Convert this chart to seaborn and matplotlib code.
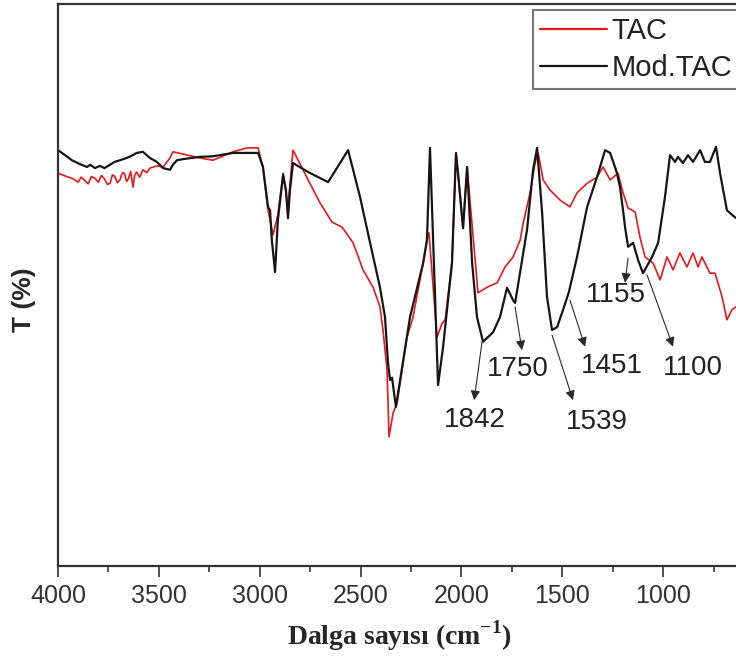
import pandas as pd
import seaborn as sns
import matplotlib.pyplot as plt
from matplotlib.ticker import MultipleLocator

# === DATA (arbitrary T scale 0-100) ===
tac_wn = [4000, 3965, 3931, 3900, 3885, 3870, 3850, 3835, 3817, 3800, 3785, 3770, 3755, 3742,
          3730, 3720, 3705, 3693, 3680, 3670, 3660, 3650, 3640, 3628, 3620, 3610, 3595, 3579,
          3560, 3544, 3510, 3479, 3445, 3430, 3380, 3296, 3232, 3132, 3063, 3008,
          2984, 2959, 2934, 2910, 2884, 2860, 2835, 2760, 2701, 2642, 2592, 2537, 2488, 2438,
          2404, 2389, 2369, 2359, 2339, 2319, 2270, 2240, 2190, 2171, 2161, 2121, 2096, 2081,
          2047, 2027, 1992, 1972, 1918, 1873, 1823, 1784, 1744, 1709, 1694, 1660, 1635, 1620,
          1595, 1561, 1511, 1462, 1427, 1377, 1328, 1298, 1263, 1224, 1199, 1174, 1139, 1115,
          1090, 1050, 1015, 981, 951, 917, 882, 852, 827, 808, 768, 743, 708, 684, 659, 639]
tac_t = [69.9, 69.4, 69.0, 68.3, 69.2, 68.7, 68.0, 69.3, 69.0, 68.3, 69.5, 68.9, 67.9, 68.1,
         69.6, 69.4, 68.2, 68.7, 70.0, 69.8, 68.4, 69.0, 70.2, 67.4, 69.5, 70.1, 69.2, 70.5,
         70.0, 70.8, 71.2, 71.0, 72.6, 73.7, 73.3, 72.6, 72.2, 73.7, 74.4, 74.4,
         71.0, 63.3, 58.9, 62.5, 69.9, 63.9, 74.0, 68.7, 64.6, 61.2, 60.3, 57.5, 52.7, 49.6,
         46.1, 42.0, 34.9, 23.0, 27.2, 29.0, 40.7, 44.3, 53.9, 58.0, 59.3, 40.7, 43.2, 43.8,
         53.9, 73.5, 60.1, 71.0, 48.6, 49.6, 50.4, 53.2, 55.0, 58.0, 61.0, 66.4, 71.7, 73.5,
         68.7, 66.9, 65.1, 63.9, 66.4, 68.1, 69.2, 71.0, 68.7, 69.9, 66.4, 63.7, 63.0, 58.5,
         55.0, 53.9, 50.9, 55.0, 52.7, 55.7, 53.2, 55.7, 53.2, 55.0, 52.1, 52.1, 47.9, 43.8, 45.6, 46.1]

mod_wn = [4000, 3965, 3931, 3891, 3856, 3840, 3817, 3792, 3770, 3742, 3720, 3693, 3660, 3640,
          3610, 3579, 3560, 3544, 3510, 3479, 3445, 3430, 3410, 3380, 3296, 3232, 3132, 3063,
          3008, 2984, 2959, 2949, 2940, 2924, 2910, 2884, 2870, 2860, 2850, 2835, 2760, 2661,
          2562, 2503, 2453, 2404, 2379, 2364, 2354, 2344, 2325, 2255, 2190, 2171, 2156, 2116,
          2091, 2047, 2027, 2017, 1992, 1972, 1947, 1923, 1893, 1843, 1809, 1774, 1744, 1734,
          1675, 1645, 1625, 1600, 1576, 1551, 1526, 1496, 1467, 1427, 1377, 1328, 1288, 1263,
          1239, 1229, 1214, 1199, 1189, 1174, 1149, 1124, 1100, 1055, 1025, 991, 966, 941,
          927, 902, 877, 852, 817, 793, 768, 738, 718, 684, 659, 639]
mod_t = [74.0, 73.1, 72.2, 71.5, 71.0, 71.4, 70.8, 71.2, 70.8, 71.4, 71.9, 72.2, 72.6, 72.9,
         73.5, 73.7, 73.1, 72.6, 71.9, 70.8, 70.5, 71.4, 72.2, 72.4, 72.8, 72.9, 73.5, 73.5,
         73.5, 71.0, 63.9, 63.3, 58.0, 52.3, 61.6, 69.6, 66.9, 61.9, 66.9, 71.7, 70.1, 68.3,
         74.0, 65.7, 57.5, 49.6, 44.3, 36.1, 33.1, 33.5, 28.3, 44.3, 53.9, 58.0, 74.4, 32.2,
         39.0, 53.9, 73.5, 69.9, 60.1, 71.0, 53.9, 44.3, 39.9, 41.6, 44.3, 49.5, 47.3, 46.8,
         59.8, 70.5, 74.4, 62.8, 47.9, 42.0, 42.5, 45.6, 48.8, 55.0, 63.9, 69.2, 74.0, 73.5,
         71.0, 69.9, 67.4, 63.3, 60.3, 56.8, 57.5, 54.4, 52.1, 55.0, 57.5, 65.7, 73.1, 71.9,
         72.8, 71.7, 73.1, 71.9, 74.0, 71.9, 71.9, 74.6, 69.9, 63.3, 62.5, 61.9]

# peak labels: text, arrow tail (wn, T), arrow head (wn, T), text centre (wn, T)
peak_labels = ["1842", "1750", "1539", "1451", "1155", "1100"]
arrow_tail = [(1898, 39.9), (1734, 46.1), (1551, 41.1), (1462, 47.3), (1174, 54.8), (1080, 51.8)]
arrow_head = [(1937, 29.5), (1700, 38.4), (1447, 29.5), (1387, 39.0), (1189, 50.4), (951, 39.0)]
label_pos = [(1933, 26.0), (1719, 35.1), (1328, 25.6), (1253, 35.6), (1233, 48.2), (852, 35.2)]

df = pd.concat([
    pd.DataFrame({"wn": tac_wn, "T": tac_t, "sample": "TAC"}),
    pd.DataFrame({"wn": mod_wn, "T": mod_t, "sample": "Mod.TAC"}),
])

sns.set_theme(style="ticks")
plt.rcParams["font.family"] = ["Liberation Sans", "DejaVu Sans"]
plt.rcParams["mathtext.fontset"] = "custom"
plt.rcParams["mathtext.bf"] = "Liberation Serif:bold"
plt.rcParams["mathtext.rm"] = "Liberation Serif:bold"

fig = plt.figure(figsize=(7.36, 6.64), dpi=100)
ax = fig.add_axes([58 / 736, 98 / 664, 678 / 736, 562 / 664])

sns.lineplot(data=df, x="wn", y="T", hue="sample", estimator=None, sort=True,
             palette={"TAC": "#e3191c", "Mod.TAC": "#151515"}, ax=ax, legend=True)
for line in ax.lines:
    line.set_linewidth(1.6 if line.get_color() == "#151515" else 1.2)

ax.set_xlim(4000, 639)
ax.set_ylim(0, 100)
ax.xaxis.set_major_locator(MultipleLocator(500))
ax.xaxis.set_minor_locator(MultipleLocator(250))
ax.set_yticks([])
ax.tick_params(axis="x", which="major", length=8, width=1.2, pad=5, labelsize=18,
               colors="#333333")
ax.tick_params(axis="x", which="minor", length=4.5, width=1.2, colors="#333333")
for side in ["left", "bottom", "top"]:
    ax.spines[side].set_color("#333333")
    ax.spines[side].set_linewidth(1.6)
ax.spines["right"].set_visible(False)

ax.set_xlabel("")
ax.set_ylabel("")
fig.text(399 / 736, 1 - 636 / 664, r"Dalga sayısı (cm$^{\mathbf{-1}}$)", ha="center", va="center",
         family="Liberation Serif", fontweight="bold", fontsize=20)
fig.text(24 / 736, 1 - 300 / 664, "T (%)", rotation=90, ha="center", va="center",
         fontweight="bold", fontsize=19)

for lab, tail, head, pos in zip(peak_labels, arrow_tail, arrow_head, label_pos):
    ax.annotate("", xy=head, xytext=tail,
                arrowprops=dict(arrowstyle="-|>", color="#2a2a2a", lw=0.8,
                                mutation_scale=14, shrinkA=0, shrinkB=0))
    ax.text(pos[0], pos[1], lab, ha="center", va="center", fontsize=20, color="#222222")

handles, labels = ax.get_legend_handles_labels()
for h in handles:
    h.set_linewidth(1.6)
leg = ax.legend(handles, labels, loc="upper left", bbox_to_anchor=(533 / 736, 1 - 10 / 664),
                bbox_transform=fig.transFigure, fontsize=21, frameon=True, fancybox=False,
                framealpha=1, edgecolor="#777777", borderpad=0.25, labelspacing=0.3,
                handlelength=2.3, handletextpad=0.15, borderaxespad=0)
leg.get_frame().set_linewidth(1.5)
for t in leg.get_texts():
    t.set_color("#222222")

fig.savefig("out.png", dpi=100)
